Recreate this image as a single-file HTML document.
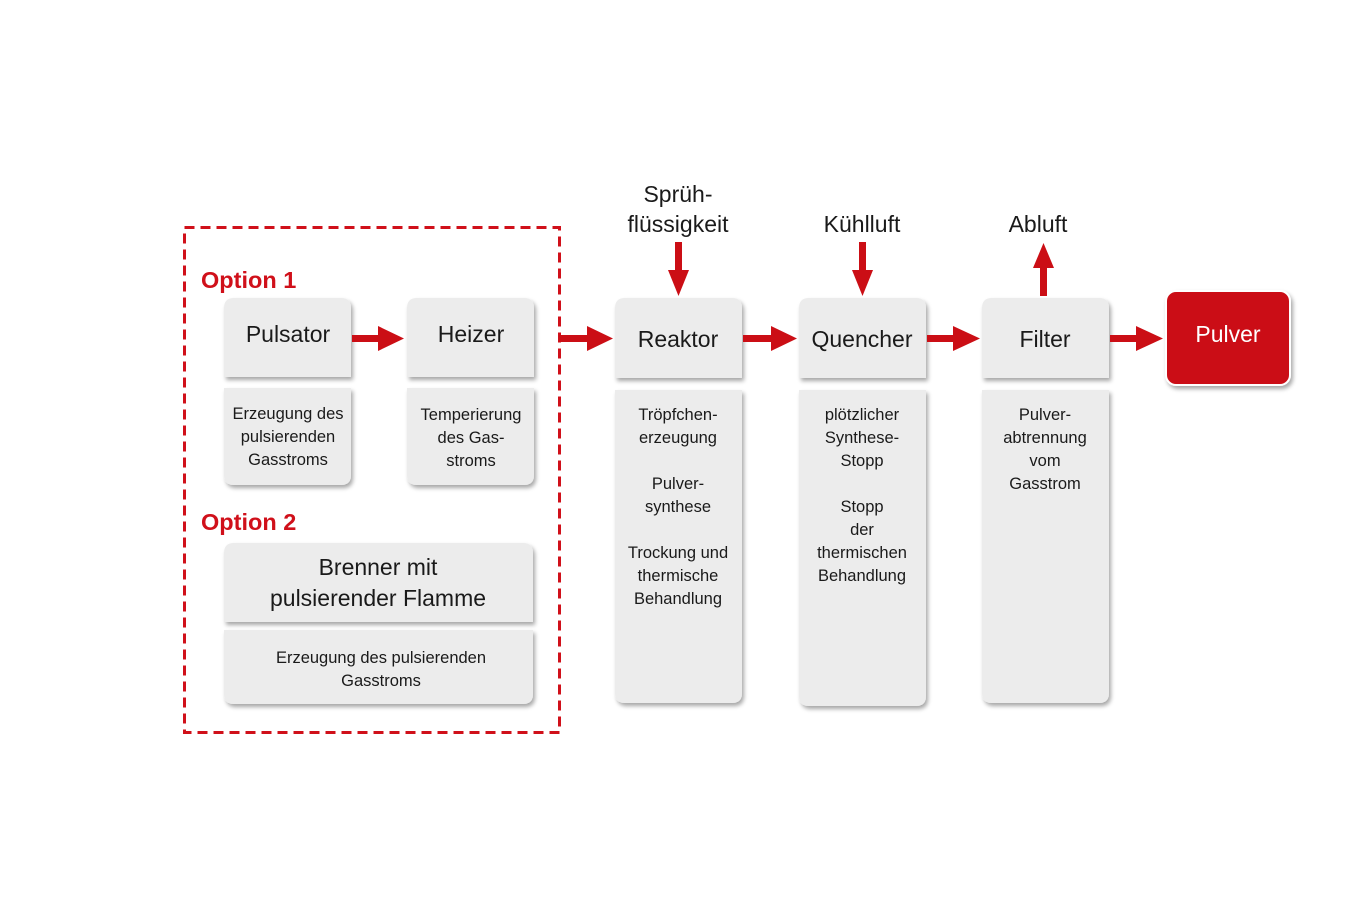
<!DOCTYPE html>
<html><head><meta charset="utf-8"><style>
html,body{margin:0;padding:0;background:#fff}
svg{display:block}
text{font-family:"Liberation Sans",sans-serif}
.t{font-size:23px;fill:#1a1a1a;text-anchor:middle}
.s{font-size:16.5px;fill:#1a1a1a;text-anchor:middle}
.o{font-size:23.5px;font-weight:bold;fill:#d0101a}
</style></head><body>
<svg width="1350" height="900" viewBox="0 0 1350 900" xmlns="http://www.w3.org/2000/svg">
<defs>
<filter id="sh" x="-10%" y="-10%" width="130%" height="130%">
<feGaussianBlur in="SourceAlpha" stdDeviation="2.2"/><feOffset dx="2" dy="3"/>
<feComponentTransfer><feFuncA type="linear" slope="0.35"/></feComponentTransfer>
<feMerge><feMergeNode/><feMergeNode in="SourceGraphic"/></feMerge></filter>
</defs>
<rect x="184.5" y="227.5" width="375" height="505" fill="none" stroke="#d0101a" stroke-width="3" stroke-dasharray="10,6"/>
<text class="o" x="201" y="288">Option 1</text>
<text class="o" x="201" y="530">Option 2</text>
<g fill="#ececec" filter="url(#sh)">
<path d="M224,377 V308 Q224,298 234,298 H341 Q351,298 351,308 V377 Z"/>
<path d="M224,388 H351 V475 Q351,485 341,485 H234 Q224,485 224,475 Z"/>
<path d="M407,377 V308 Q407,298 417,298 H524 Q534,298 534,308 V377 Z"/>
<path d="M407,388 H534 V475 Q534,485 524,485 H417 Q407,485 407,475 Z"/>
<path d="M224,622 V553 Q224,543 234,543 H523 Q533,543 533,553 V622 Z"/>
<path d="M224,630 H533 V694 Q533,704 523,704 H234 Q224,704 224,694 Z"/>
<path d="M615,378 V308 Q615,298 625,298 H732 Q742,298 742,308 V378 Z"/>
<path d="M615,390 H742 V693 Q742,703 732,703 H625 Q615,703 615,693 Z"/>
<path d="M799,378 V308 Q799,298 809,298 H916 Q926,298 926,308 V378 Z"/>
<path d="M799,390 H926 V696 Q926,706 916,706 H809 Q799,706 799,696 Z"/>
<path d="M982,378 V308 Q982,298 992,298 H1099 Q1109,298 1109,308 V378 Z"/>
<path d="M982,390 H1109 V693 Q1109,703 1099,703 H992 Q982,703 982,693 Z"/>
</g>
<rect x="1166" y="291" width="124" height="94" rx="10" fill="#cb0e15" stroke="#fff" stroke-width="2" filter="url(#sh)"/>
<g fill="#cb0e15">
<rect x="352" y="335" width="28" height="7"/><polygon points="378,326 404,338.5 378,351"/>
<rect x="559" y="335" width="30" height="7"/><polygon points="587,326 613,338.5 587,351"/>
<rect x="743" y="335" width="30" height="7"/><polygon points="771,326 797,338.5 771,351"/>
<rect x="927" y="335" width="28" height="7"/><polygon points="953,326 980,338.5 953,351"/>
<rect x="1110" y="335" width="28" height="7"/><polygon points="1136,326 1163,338.5 1136,351"/>
<rect x="675" y="242" width="7" height="30"/><polygon points="668,270 689,270 678.5,296"/>
<rect x="859" y="242" width="7" height="30"/><polygon points="852,270 873,270 862.5,296"/>
<rect x="1040" y="266" width="7" height="30"/><polygon points="1033,268 1054,268 1043.5,243"/>
</g>
<text class="t" x="678" y="202">Sprüh-</text>
<text class="t" x="678" y="232">flüssigkeit</text>
<text class="t" x="862" y="232">Kühlluft</text>
<text class="t" x="1038" y="232">Abluft</text>
<text class="t" x="288" y="342">Pulsator</text>
<text class="t" x="471" y="342">Heizer</text>
<text class="t" x="678" y="347">Reaktor</text>
<text class="t" x="862" y="347">Quencher</text>
<text class="t" x="1045" y="347">Filter</text>
<text class="t" x="1228" y="342" style="fill:#fff">Pulver</text>
<text class="t" x="378" y="575">Brenner mit</text>
<text class="t" x="378" y="606">pulsierender Flamme</text>
<g class="s">
<text class="s" x="288" y="419">Erzeugung des</text>
<text class="s" x="288" y="442">pulsierenden</text>
<text class="s" x="288" y="465">Gasstroms</text>
<text class="s" x="471" y="420">Temperierung</text>
<text class="s" x="471" y="443">des Gas-</text>
<text class="s" x="471" y="466">stroms</text>
<text class="s" x="381" y="663">Erzeugung des pulsierenden</text>
<text class="s" x="381" y="686">Gasstroms</text>
<text class="s" x="678" y="420">Tröpfchen-</text>
<text class="s" x="678" y="443">erzeugung</text>
<text class="s" x="678" y="489">Pulver-</text>
<text class="s" x="678" y="512">synthese</text>
<text class="s" x="678" y="558">Trockung und</text>
<text class="s" x="678" y="581">thermische</text>
<text class="s" x="678" y="604">Behandlung</text>
<text class="s" x="862" y="420">plötzlicher</text>
<text class="s" x="862" y="443">Synthese-</text>
<text class="s" x="862" y="466">Stopp</text>
<text class="s" x="862" y="512">Stopp</text>
<text class="s" x="862" y="535">der</text>
<text class="s" x="862" y="558">thermischen</text>
<text class="s" x="862" y="581">Behandlung</text>
<text class="s" x="1045" y="420">Pulver-</text>
<text class="s" x="1045" y="443">abtrennung</text>
<text class="s" x="1045" y="466">vom</text>
<text class="s" x="1045" y="489">Gasstrom</text>
</g>
</svg>
</body></html>
